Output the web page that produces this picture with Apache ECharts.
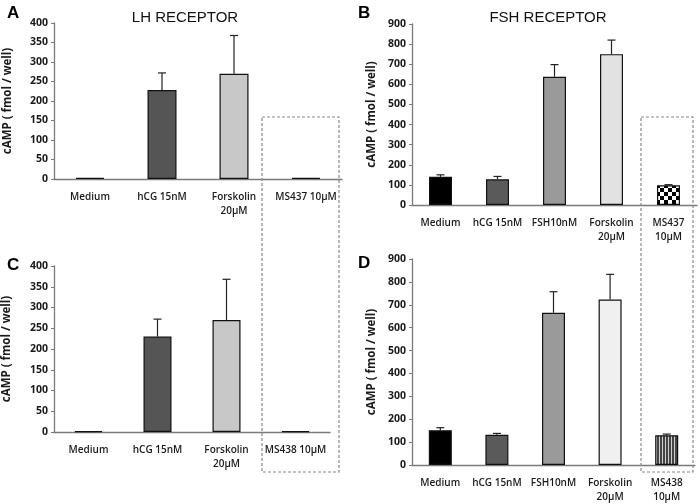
<!DOCTYPE html>
<html>
<head>
<meta charset="utf-8">
<script src="https://cdn.jsdelivr.net/npm/echarts@6/dist/echarts.min.js"></script>
<style>html,body{margin:0;padding:0;background:#fff}#c{width:700px;height:504px}</style>
</head>
<body>
<div id="c"></div>
<script>
// ---- data ----
const catsA = ['Medium', 'hCG 15nM', 'Forskolin\n20µM', 'MS437 10µM'];
const valsA = [3, 228, 270, 3];
const errA = [0, 44, 98, 0];

const catsB = ['Medium', 'hCG 15nM', 'FSH10nM', 'Forskolin\n20µM', 'MS437\n10µM'];
const valsB = [140, 128, 638, 750, 98];
const errB = [10, 14, 60, 70, 3];

const catsC = ['Medium', 'hCG 15nM', 'Forskolin\n20µM', 'MS438 10µM'];
const valsC = [2, 230, 270, 2];
const errC = [0, 42, 98, 0];

const catsD = ['Medium', 'hCG 15nM', 'FSH10nM', 'Forskolin\n20µM', 'MS438\n10µM'];
const valsD = [152, 132, 665, 723, 130];
const errD = [11, 6, 92, 110, 5];

const yTitle = 'cAMP ( fmol / well)';
const titleLH = 'LH RECEPTOR';
const titleFSH = 'FSH RECEPTOR';

// ---- patterns ----
function checker() {
  const c = document.createElement('canvas'); c.width = 8; c.height = 8;
  const g = c.getContext('2d'); g.fillStyle = '#fff'; g.fillRect(0, 0, 8, 8);
  g.fillStyle = '#000'; g.fillRect(0, 0, 4, 4); g.fillRect(4, 4, 4, 4);
  return c;
}
function stripes() {
  const c = document.createElement('canvas'); c.width = 3; c.height = 4;
  const g = c.getContext('2d'); g.fillStyle = '#d0d0d0'; g.fillRect(0, 0, 3, 4);
  g.fillStyle = '#444'; g.fillRect(0, 0, 2, 4);
  return c;
}
const pat = { checker: { image: checker(), repeat: 'repeat' }, stripes: { image: stripes(), repeat: 'repeat' } };

const colA = ['#000', '#555', '#c8c8c8', '#000'];
const colB = ['#000', '#5a5a5a', '#9a9a9a', '#e2e2e2', pat.checker];
const colC = ['#000', '#555', '#c8c8c8', '#000'];
const colD = ['#000', '#5a5a5a', '#9a9a9a', '#f0f0f0', pat.stripes];

const font = '"Open Sans", "Liberation Sans", sans-serif';
const chart = echarts.init(document.getElementById('c'), null, { renderer: 'canvas' });

const grids = [
  { left: 54, top: 23, width: 288, height: 156 },
  { left: 412, top: 24, width: 285, height: 181 },
  { left: 54, top: 266, width: 276, height: 166 },
  { left: 412, top: 259, width: 283, height: 208 }
];
const panels = [
  { cats: catsA, vals: valsA, err: errA, col: colA, max: 400, step: 50, bw: 29, gap: 40 },
  { cats: catsB, vals: valsB, err: errB, col: colB, max: 900, step: 100, bw: 23, gap: 34 },
  { cats: catsC, vals: valsC, err: errC, col: colC, max: 400, step: 50, bw: 28, gap: 41 },
  { cats: catsD, vals: valsD, err: errD, col: colD, max: 900, step: 100, bw: 23, gap: 34 }
];

const xAxis = [], yAxis = [], series = [];
panels.forEach((p, i) => {
  xAxis.push({
    type: 'category', gridIndex: i, data: p.cats,
    axisLine: { lineStyle: { color: '#7a7a7a', width: 1.3 } },
    axisTick: { show: false },
    axisLabel: { interval: 0, color: '#1a1a1a', fontFamily: font, fontSize: 10, fontWeight: 600, margin: 11, lineHeight: 14 }
  });
  yAxis.push({
    type: 'value', gridIndex: i, min: 0, max: p.max, interval: p.step,
    name: yTitle, nameLocation: 'middle', nameGap: p.gap,
    nameTextStyle: { fontFamily: font, fontSize: 11.5, fontWeight: 'bold', color: '#1a1a1a' },
    axisLine: { show: true, lineStyle: { color: '#7a7a7a', width: 1.3 } },
    axisTick: { show: true, length: 3, lineStyle: { color: '#7a7a7a' } },
    splitLine: { show: false },
    axisLabel: { color: '#1a1a1a', fontFamily: font, fontSize: 10.5, fontWeight: 'bold', margin: 6 }
  });
  series.push({
    type: 'bar', xAxisIndex: i, yAxisIndex: i, barWidth: p.bw,
    data: p.vals.map((v, k) => ({ value: v, itemStyle: { color: p.col[k], borderColor: '#111', borderWidth: 1.2 } })),
    silent: true, animation: false
  });
  series.push({
    type: 'custom', xAxisIndex: i, yAxisIndex: i, animation: false, silent: true,
    data: p.vals.map((v, k) => [k, v, p.err[k]]),
    encode: { x: 0, y: 1 },
    renderItem: function (params, api) {
      const e = api.value(2);
      if (!e) return null;
      const x = api.value(0), v = api.value(1);
      const b = api.coord([x, v]);
      const t = api.coord([x, v + e]);
      const st = { stroke: '#222', lineWidth: 1.2 };
      return {
        type: 'group', children: [
          { type: 'line', shape: { x1: b[0], y1: b[1], x2: t[0], y2: t[1] }, style: st },
          { type: 'line', shape: { x1: t[0] - 4, y1: t[1], x2: t[0] + 4, y2: t[1] }, style: st }
        ]
      };
    }
  });
});

const letterStyle = { fontFamily: '"Liberation Sans", Arial, sans-serif', fontSize: 17, fontWeight: 'bold', color: '#000' };
const headStyle = { fontFamily: '"Liberation Sans", Arial, sans-serif', fontSize: 15, fontWeight: 'normal', color: '#111' };
chart.setOption({
  animation: false,
  backgroundColor: '#fff',
  title: [
    { text: 'A', left: 2, top: 0, textStyle: letterStyle },
    { text: 'B', left: 353, top: 0, textStyle: letterStyle },
    { text: 'C', left: 2, top: 252, textStyle: letterStyle },
    { text: 'D', left: 353, top: 250, textStyle: letterStyle },
    { text: titleLH, left: 180, top: 5, textAlign: 'center', textStyle: headStyle },
    { text: titleFSH, left: 543, top: 5, textAlign: 'center', textStyle: headStyle }
  ],
  grid: grids,
  xAxis: xAxis,
  yAxis: yAxis,
  series: series,
  graphic: [
    { type: 'rect', shape: { x: 262, y: 117, width: 77, height: 355 }, style: { fill: 'none', stroke: '#888', lineWidth: 1.2, lineDash: [3, 2] }, z: 10 },
    { type: 'rect', shape: { x: 641, y: 117, width: 52, height: 355 }, style: { fill: 'none', stroke: '#888', lineWidth: 1.2, lineDash: [3, 2] }, z: 10 }
  ]
});
</script>
</body>
</html>
